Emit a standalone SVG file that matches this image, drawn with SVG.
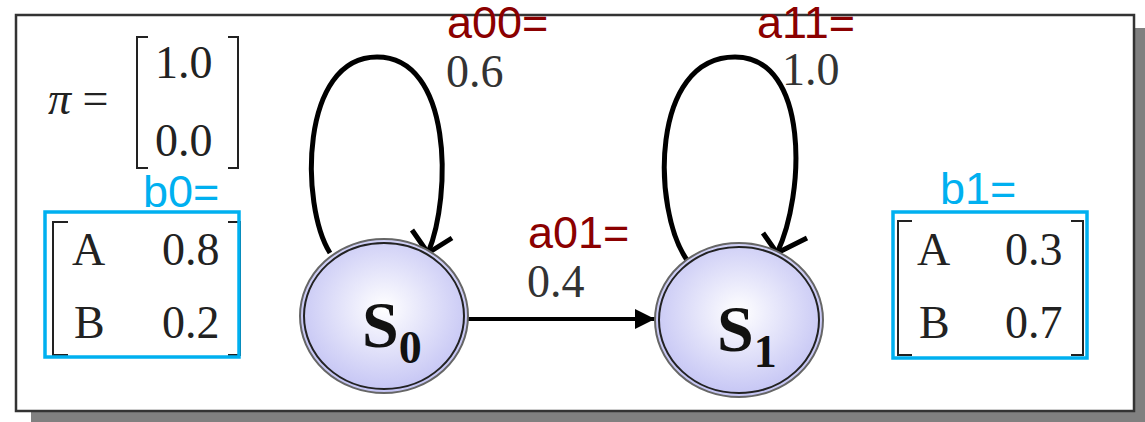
<svg xmlns="http://www.w3.org/2000/svg" width="1145" height="422" viewBox="0 0 1145 422">
<defs>
<radialGradient id="nodeFill" cx="50%" cy="45%" r="55%">
<stop offset="0" stop-color="#ffffff"/>
<stop offset="1" stop-color="#c4c4f4"/>
</radialGradient>
<marker id="tri" viewBox="0 0 20 20" refX="20" refY="10" markerWidth="20" markerHeight="20" markerUnits="userSpaceOnUse" orient="auto">
<path d="M0,0 L20,10 L0,20 Z" fill="#000"/>
</marker>
<style>
.serif{font-family:"Liberation Serif","Times New Roman",serif;font-size:46px;fill:#222}
.prob{font-family:"Liberation Serif","Times New Roman",serif;font-size:46px;fill:#333}
.red{font-family:"Liberation Sans",Arial,sans-serif;font-size:45px;fill:#8b0000}
.blue{font-family:"Liberation Sans",Arial,sans-serif;font-size:45px;fill:#00b0f0}
.bbox{fill:none;stroke:#00b0f0;stroke-width:3.5}
.brk{fill:none;stroke:#222;stroke-width:2}
.edge{fill:none;stroke:#000;stroke-width:5}
.node-outer{fill:url(#nodeFill);stroke:#666;stroke-width:2}
.node-inner{fill:none;stroke:#222;stroke-width:2}
.lbl{font-family:"Liberation Serif","Times New Roman",serif;font-weight:bold;fill:#111}
</style>
</defs>
<rect x="31" y="28" width="1114" height="394" fill="#808080"/>
<rect x="16" y="15" width="1118" height="396" fill="#fff" stroke="#333" stroke-width="2.5"/>

<g id="pi">
<text class="serif" x="48" y="114"><tspan font-style="italic">π</tspan> =</text>
<path class="brk" d="M148,37 H137 V168 H148"/>
<path class="brk" d="M228,37 H238 V168 H228"/>
<text class="serif" x="155" y="78">1.0</text>
<text class="serif" x="155" y="156">0.0</text>
</g>

<g id="b0">
<text class="blue" x="143" y="207">b0=</text>
<path class="brk" d="M68,222 H53 V355 H68"/>
<path class="brk" d="M228,222 H240 V355 H228"/>
<text class="serif" x="72" y="265">A</text>
<text class="serif" x="162" y="265">0.8</text>
<text class="serif" x="74" y="338">B</text>
<text class="serif" x="162" y="338">0.2</text>
<rect class="bbox" x="45" y="212" width="194" height="145"/>
</g>

<g id="b1">
<text class="blue" x="940" y="204">b1=</text>
<path class="brk" d="M912,221 H898 V355 H912"/>
<path class="brk" d="M1071,221 H1083 V355 H1071"/>
<text class="serif" x="917" y="265">A</text>
<text class="serif" x="1005" y="265">0.3</text>
<text class="serif" x="919" y="338">B</text>
<text class="serif" x="1005" y="338">0.7</text>
<rect class="bbox" x="893" y="212" width="194" height="146"/>
</g>

<g id="connectors">
<path class="edge" d="M330,253 C300,205 300,57 377,57 C452,57 452,195 428,253"/>
<polyline class="edge" points="412,230 428,253 452,238"/>
<path class="edge" d="M687,260 C652,210 650,57 735,57 C810,57 805,195 777,253"/>
<polyline class="edge" points="763,233 777,253 807,238"/>
<line x1="468" y1="319" x2="655" y2="319" stroke="#000" stroke-width="4" marker-end="url(#tri)"/>
<text class="red" x="447" y="38">a00=</text>
<text class="prob" x="446" y="87">0.6</text>
<text class="red" x="757" y="38">a11=</text>
<text class="prob" x="782" y="85">1.0</text>
<text class="red" x="528" y="248">a01=</text>
<text class="prob" x="527" y="297">0.4</text>
</g>

<g id="S0">
<ellipse class="node-outer" cx="384" cy="316" rx="84" ry="77"/>
<ellipse class="node-inner" cx="384" cy="316" rx="80" ry="73"/>
<text class="lbl" x="362" y="347" font-size="66">S<tspan font-size="46" dy="16">0</tspan></text>
</g>

<g id="S1">
<ellipse class="node-outer" cx="739" cy="320" rx="84" ry="77"/>
<ellipse class="node-inner" cx="739" cy="320" rx="80" ry="73"/>
<text class="lbl" x="717" y="351" font-size="66">S<tspan font-size="46" dy="16">1</tspan></text>
</g>
</svg>
